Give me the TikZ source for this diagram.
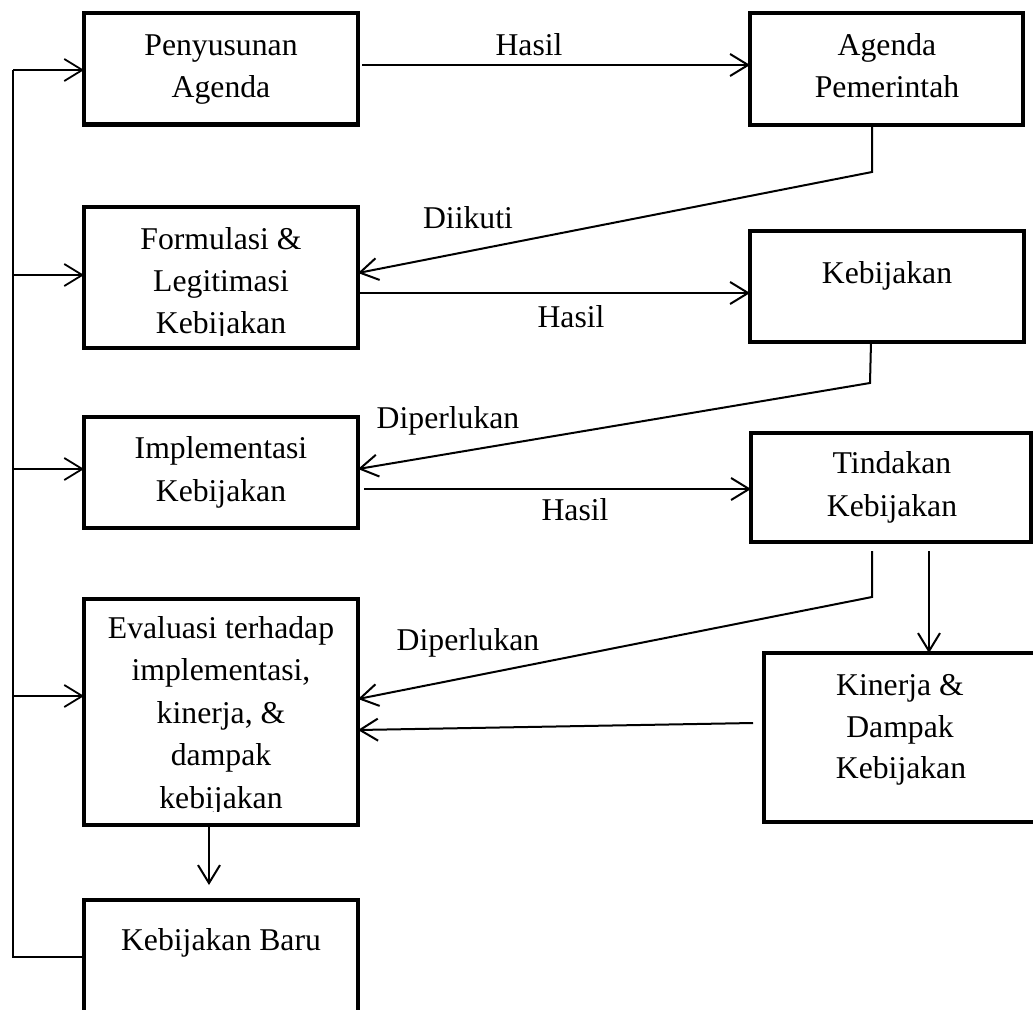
\documentclass[tikz,border=0pt]{standalone}
\usepackage{fontspec}
\setmainfont{Liberation Serif}
\usetikzlibrary{arrows.meta,calc}
\tikzset{
  box/.style={draw, rectangle, line width=4.3pt, inner sep=0pt, outer sep=0pt},
  conn/.style={line width=2pt},
  arr/.style={line width=2pt, -{Straight Barb[length=18pt,width=22pt]}},
  fb/.style={line width=1.8pt},
  fbarr/.style={line width=1.8pt, -{Straight Barb[length=18pt,width=22pt]}},
  txt/.style={anchor=base, inner sep=0pt, font=\fontsize{31.7}{38}\selectfont},
}
\begin{document}
\begin{tikzpicture}[x=1pt,y=-1pt]
\useasboundingbox (0,0) rectangle (1033,1009);

% boxes
\node[box, minimum width=274pt, minimum height=111.5pt] (B1) at (221,68.75) {};
\node[box, minimum width=274pt, minimum height=141pt]   (B2) at (221,277.5) {};
\node[box, minimum width=274pt, minimum height=111pt]   (B3) at (221,472.5) {};
\node[box, minimum width=274pt, minimum height=226pt]   (B4) at (221,712) {};
\node[box, minimum width=274pt, minimum height=160pt]   (B5) at (221,980) {};
\node[box, minimum width=273pt, minimum height=112pt]   (R1) at (886.5,69) {};
\node[box, minimum width=274pt, minimum height=111pt]   (R2) at (887,286.5) {};
\node[box, minimum width=280pt, minimum height=109pt]   (R3) at (891,487.5) {};
\node[box, minimum width=276pt, minimum height=169pt]   (R4) at (902,737.5) {};

% box texts
\node[txt] (t1a) at (221,55) {Penyusunan};
\node[txt] (t1b) at (221,97) {Agenda};
\node[txt] (t2a) at (221,249) {Formulasi \&};
\node[txt] (t2b) at (221,291) {Legitimasi};
\begin{scope}
  \clip (84,300) rectangle (358,335);
  \node[txt] (t2c) at (221,333) {Kebijakan};
\end{scope}
\node[txt] (t3a) at (221,458) {Implementasi};
\node[txt] (t3b) at (221,501) {Kebijakan};
\node[txt] (t4a) at (221,638) {Evaluasi terhadap};
\node[txt] (t4b) at (221,680.5) {implementasi,};
\node[txt] (t4c) at (221,723) {kinerja, \&};
\node[txt] (t4d) at (221,765.5) {dampak};
\begin{scope}
  \clip (84,775) rectangle (358,811);
  \node[txt] (t4e) at (221,808) {kebijakan};
\end{scope}
\node[txt] (t5a) at (221,950) {Kebijakan Baru};
\node[txt] (r1a) at (887,55) {Agenda};
\node[txt] (r1b) at (887,97) {Pemerintah};
\node[txt] (r2a) at (887,283) {Kebijakan};
\node[txt] (r3a) at (892,473) {Tindakan};
\node[txt] (r3b) at (892,516) {Kebijakan};
\node[txt] (r4a) at (900,695) {Kinerja \&};
\node[txt] (r4b) at (900,737) {Dampak};
\node[txt] (r4c) at (901,778) {Kebijakan};

% connector labels
\node[txt] (l1) at (529,55) {Hasil};
\node[txt] (l2) at (468,228) {Diikuti};
\node[txt] (l3) at (571,327) {Hasil};
\node[txt] (l4) at (448,428) {Diperlukan};
\node[txt] (l5) at (575,520) {Hasil};
\node[txt] (l6) at (468,650) {Diperlukan};

% bend points
\coordinate (d1) at (872,172);
\coordinate (d2) at (870,383);
\coordinate (d3) at (872,597);

% connectors
\draw[arr] ($(B1.east |- 0,65)+(4,0)$) -- (R1.west |- 0,65);
\draw[arr] (872,0 |- R1.south) -- (d1) -- (B2.east |- 0,273);
\draw[arr] (B2.east |- 0,293) -- (R2.west |- 0,293);
\draw[arr] (871,0 |- R2.south) -- (d2) -- (B3.east |- 0,469);
\draw[arr] ($(B3.east |- 0,489)+(6,0)$) -- (R3.west |- 0,489);
\draw[arr] ($(872,0 |- R3.south)+(0,9)$) -- (d3) -- (B4.east |- 0,699);
\draw[arr] ($(929,0 |- R3.south)+(0,9)$) -- (929,0 |- R4.north);
\draw[arr] ($(R4.west |- 0,723)+(-11,0)$) -- (B4.east |- 0,730);
\draw[arr] (209,0 |- B4.south) -- ($(209,0 |- B5.north)+(0,-15)$);

% feedback loop
\coordinate (fbBot) at (13,957);
\coordinate (fbTop) at (13,70);
\coordinate (fb2) at (13,275);
\coordinate (fb3) at (13,469);
\coordinate (fb4) at (13,696);
\draw[fb] (B5.west |- fbBot) -- (fbBot) -- (fbTop);
\draw[fbarr] (fbTop) -- (B1.west |- fbTop);
\draw[fbarr] (fb2) -- (B2.west |- fb2);
\draw[fbarr] (fb3) -- (B3.west |- fb3);
\draw[fbarr] (fb4) -- (B4.west |- fb4);
\end{tikzpicture}
\end{document}
